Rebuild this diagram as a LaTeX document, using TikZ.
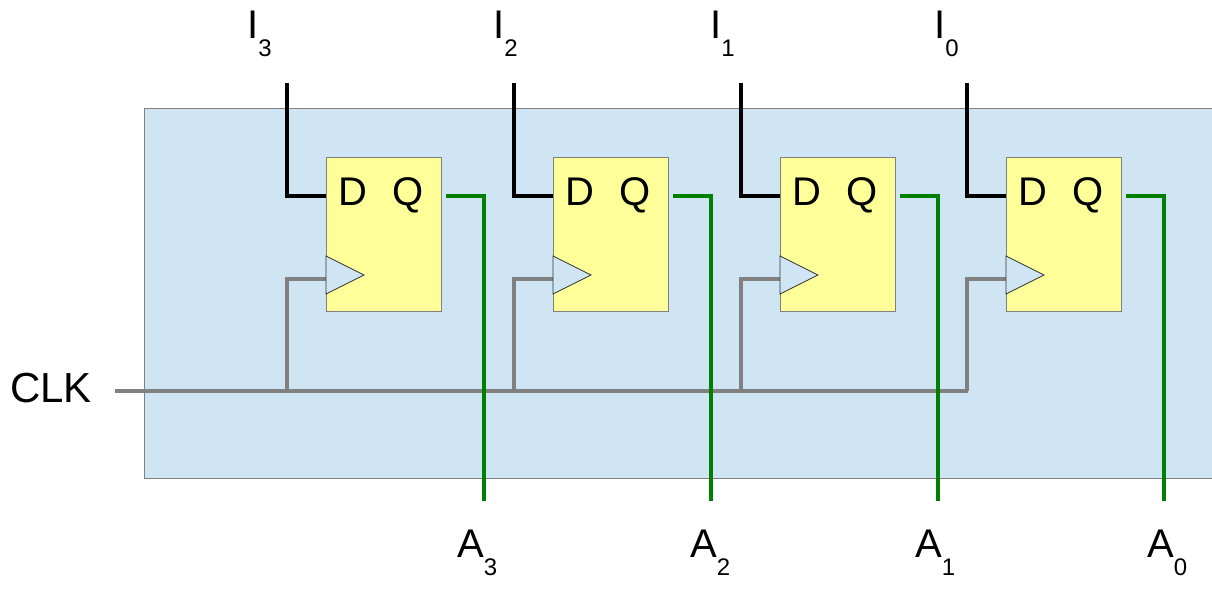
\documentclass[tikz,border=0pt]{standalone}
\usepackage{fontspec}
\usetikzlibrary{calc}
\setmainfont{Liberation Sans}
\definecolor{bgblue}{HTML}{CFE5F3}
\definecolor{ffyellow}{HTML}{FFFF99}
\definecolor{qgreen}{HTML}{008000}
\definecolor{clkgray}{HTML}{808080}
\definecolor{trifill}{HTML}{CFE5F3}
\newcommand{\biglbl}[2]{\fontsize{40}{40}\selectfont #1\raisebox{-18pt}{\fontsize{24}{24}\selectfont #2}}
\tikzset{
  ffbox/.style={draw=clkgray, line width=1.2pt, fill=ffyellow, minimum width=115pt, minimum height=154pt, inner sep=0pt, anchor=north west},
  pinlbl/.style={font=\fontsize{40}{40}\selectfont, inner sep=0pt, anchor=base west},
  iolbl/.style={inner sep=0pt, anchor=base west},
  dwire/.style={draw=black, line width=3.8pt},
  qwire/.style={draw=qgreen, line width=3.8pt},
  cwire/.style={draw=clkgray, line width=3.8pt},
  clktri/.style={draw=black!80, line width=0.8pt, fill=trifill}
}
\begin{document}
\begin{tikzpicture}[x=1pt,y=-1pt]
\useasboundingbox (0,0) rectangle (1212,590);
\clip (0,0) rectangle (1212,590);
\fill[white] (0,0) rectangle (1212,590);
\node[draw=clkgray, line width=1.2pt, fill=bgblue, minimum width=1100pt, minimum height=370pt, inner sep=0pt, anchor=north west] (bg) at (144,108) {};
\node[font=\fontsize{42}{42}\selectfont, inner sep=0pt, anchor=base west] (clk) at (10,402) {CLK};
\coordinate (clkstart) at (115,391);
\coordinate (clkend) at (968,391);
\draw[cwire] (clkstart) -- (clkend);
\foreach \i/\x/\n/\ix/\ax in {1/326/3/247/457, 2/553/2/493/690, 3/780/1/710/915, 4/1006/0/934/1147}{
  \node[ffbox] (ff\i) at (\x,157) {};
  \node[pinlbl] (d\i) at ($(ff\i.north west)+(12,48)$) {D};
  \node[pinlbl] (q\i) at ($(ff\i.north west)+(66,48)$) {Q};
  \coordinate (dtop\i) at (\x-39,83);
  \coordinate (dcor\i) at (\x-39,196);
  \coordinate (din\i) at (\x,196);
  \draw[dwire] (dtop\i) -- (dcor\i) -- (din\i);
  \coordinate (qout\i) at (\x+120,196);
  \coordinate (qcor\i) at (\x+158,196);
  \coordinate (qend\i) at (\x+158,501);
  \draw[qwire] (qout\i) -- (qcor\i) -- (qend\i);
  \coordinate (ctap\i) at (\x-39,391);
  \coordinate (ccor\i) at (\x-39,279);
  \coordinate (cin\i) at (\x,279);
  \draw[cwire] (ctap\i) -- (ccor\i) -- (cin\i);
  \draw[clktri] (\x,256) -- (\x+38,275) -- (\x,294) -- cycle;
  \node[iolbl] (in\i) at (\ix,38) {\biglbl{I}{\n}};
  \node[iolbl] (a\i) at (\ax,557) {\biglbl{A}{\n}};
}
\end{tikzpicture}
\end{document}
